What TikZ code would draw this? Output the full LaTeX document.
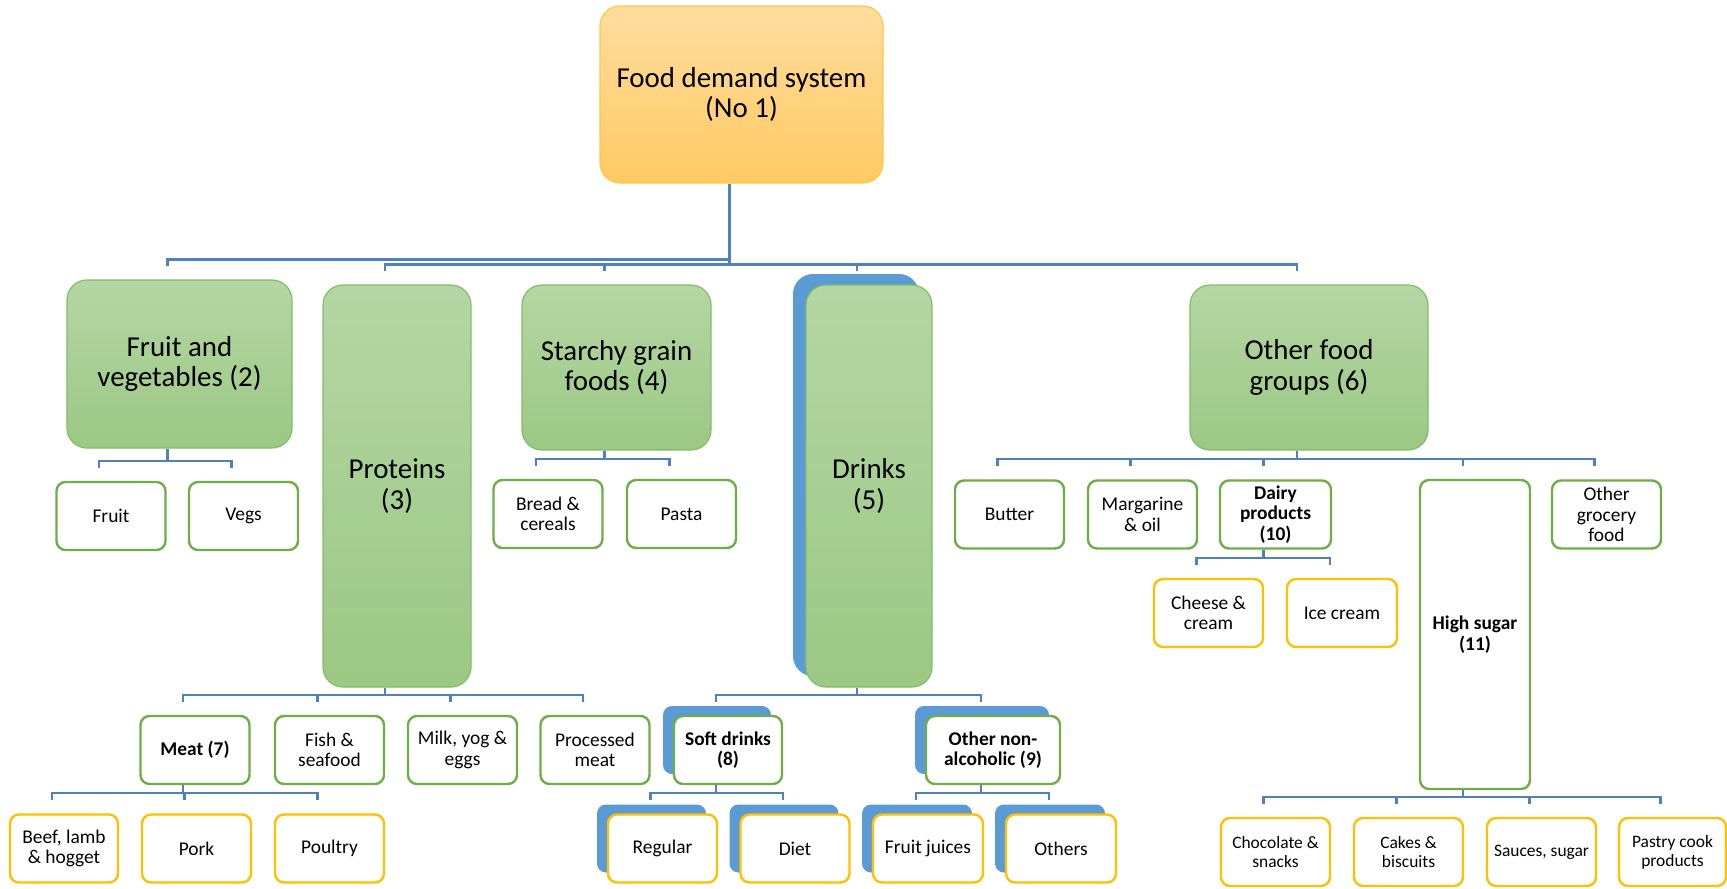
\documentclass[tikz,border=0pt]{standalone}
\usepackage{fontspec}
\setmainfont{Carlito}
\usepackage{xcolor}
\usepackage{tikz}
\usetikzlibrary{shadows,positioning}

\definecolor{rootA}{HTML}{FFDC9E}
\definecolor{rootB}{HTML}{FFCA62}
\definecolor{rootline}{HTML}{FFC845}
\definecolor{greenA}{HTML}{B4D6A4}
\definecolor{greenB}{HTML}{9BC883}
\definecolor{groupline}{HTML}{84BD66}
\definecolor{itemgreen}{HTML}{70AD47}
\definecolor{leafgold}{HTML}{FFC000}
\definecolor{stackblue}{HTML}{5B9BD5}
\definecolor{linkblue}{HTML}{4F81BD}

\begin{document}
\begin{tikzpicture}[x=1bp, y=-1bp,
    rootbox/.style={draw=rootline, line width=1.2bp, rounded corners=20bp, top color=rootA, bottom color=rootB, align=center, inner sep=0pt, font=\fontsize{29}{31}\selectfont},
    groupbox/.style={draw=groupline, line width=1.2bp, rounded corners=20bp, top color=greenA, bottom color=greenB, align=center, inner sep=0pt, font=\fontsize{29}{31}\selectfont},
    itembox/.style={draw=itemgreen, line width=2.4bp, fill=white, rounded corners=9bp, align=center, inner sep=0pt, minimum width=109bp, minimum height=68bp, font=\fontsize{19.5}{20.5}\selectfont},
    leafbox/.style={itembox, draw=leafgold},
    smallleaf/.style={leafbox, font=\fontsize{17.5}{19}\selectfont},
    stacked/.style={copy shadow={shadow xshift=-11bp, shadow yshift=10bp, fill=stackblue, draw=none}},
    conn/.style={draw=linkblue, line width=2.2bp}]
    \useasboundingbox (0,0) rectangle (1727,888);

    % top
    \node[rootbox, minimum width=283bp, minimum height=177bp] (root) at (741.5,94.5) {Food demand system\\(No 1)};

    % food groups
    \node[groupbox, minimum width=225bp, minimum height=168bp] (fv) at (179.5,364) {Fruit and\\vegetables (2)};
    \node[groupbox, minimum width=148bp, minimum height=402bp] (prot) at (397,486) {Proteins\\(3)};
    \node[groupbox, minimum width=189bp, minimum height=165bp] (starchy) at (616.5,367.5) {Starchy grain\\foods (4)};
    \node[groupbox, minimum width=126bp, minimum height=402bp, copy shadow={shadow xshift=-13bp, shadow yshift=11bp, fill=stackblue, draw=none}] (drinks) at (869,486) {Drinks\\(5)};
    \node[groupbox, minimum width=238bp, minimum height=165bp] (other) at (1309,367.5) {Other food\\groups (6)};

    % second level
    \node[itembox] (fruit) at (111,516) {Fruit};
    \node[itembox] (vegs) at (243.5,516) {Vegs};
    \node[itembox] (bread) at (548,514) {Bread \&\\cereals};
    \node[itembox] (pasta) at (681.5,514) {Pasta};
    \node[itembox] (meat) at (195,750) {\bfseries Meat (7)};
    \node[itembox] (fish) at (329.5,750) {Fish \&\\seafood};
    \node[itembox] (milk) at (462.5,750) {Milk, yog \&\\eggs};
    \node[itembox] (proc) at (595,750) {Processed\\meat};
    \node[itembox, stacked, minimum width=108bp] (soft) at (728,750) {\bfseries Soft drinks\\\bfseries (8)};
    \node[itembox, stacked, minimum width=134bp] (othernon) at (993,750) {\bfseries Other non-\\\bfseries alcoholic (9)};
    \node[itembox] (butter) at (1009.5,514.5) {Butter};
    \node[itembox] (marg) at (1142.5,514.5) {Margarine\\\& oil};
    \node[itembox, minimum width=111bp] (dairy) at (1275.5,514.5) {\bfseries Dairy\\\bfseries products\\\bfseries (10)};
    \node[itembox, minimum width=110bp, minimum height=309bp] (sugar) at (1475,634.5) {\bfseries High sugar\\\bfseries (11)};
    \node[itembox] (grocery) at (1606.5,514.5) {Other\\grocery\\food};

    % third level
    \node[leafbox, minimum width=108bp] (beef) at (64,848.5) {Beef, lamb\\\& hogget};
    \node[leafbox] (pork) at (196.5,848.5) {Pork};
    \node[leafbox] (poultry) at (329.5,848.5) {Poultry};
    \node[leafbox, stacked] (regular) at (662.5,848.5) {Regular};
    \node[leafbox, stacked] (diet) at (795,848.5) {Diet};
    \node[leafbox, stacked, minimum width=110bp] (juices) at (928,848.5) {Fruit juices};
    \node[leafbox, stacked, minimum width=110bp] (others) at (1061,848.5) {Others};
    \node[leafbox] (cheese) at (1208.5,613) {Cheese \&\\cream};
    \node[leafbox, minimum width=110bp] (icecream) at (1342,613) {Ice cream};
    \node[smallleaf] (choc) at (1275.5,852) {Chocolate \&\\snacks};
    \node[smallleaf] (cakes) at (1408.5,852) {Cakes \&\\biscuits};
    \node[smallleaf] (sauces) at (1541.5,852) {Sauces, sugar};
    \node[smallleaf, minimum width=107bp] (pastry) at (1672.5,852) {Pastry cook\\products};

    % connectors
    \foreach \p/\kids in {root/{fv,prot,starchy,drinks,other}, fv/{fruit,vegs}, prot/{meat,fish,milk,proc},
        starchy/{bread,pasta}, drinks/{soft,othernon}, other/{butter,marg,dairy,sugar,grocery},
        meat/{beef,pork,poultry}, soft/{regular,diet}, othernon/{juices,others},
        dairy/{cheese,icecream}, sugar/{choc,cakes,sauces,pastry}}
        \foreach \k in \kids
            \draw[conn] ([xshift=-12bp]\p.south) |- ([xshift=-12bp,yshift=20bp]\k.north) -- ++(0,7);
\end{tikzpicture}
\end{document}
